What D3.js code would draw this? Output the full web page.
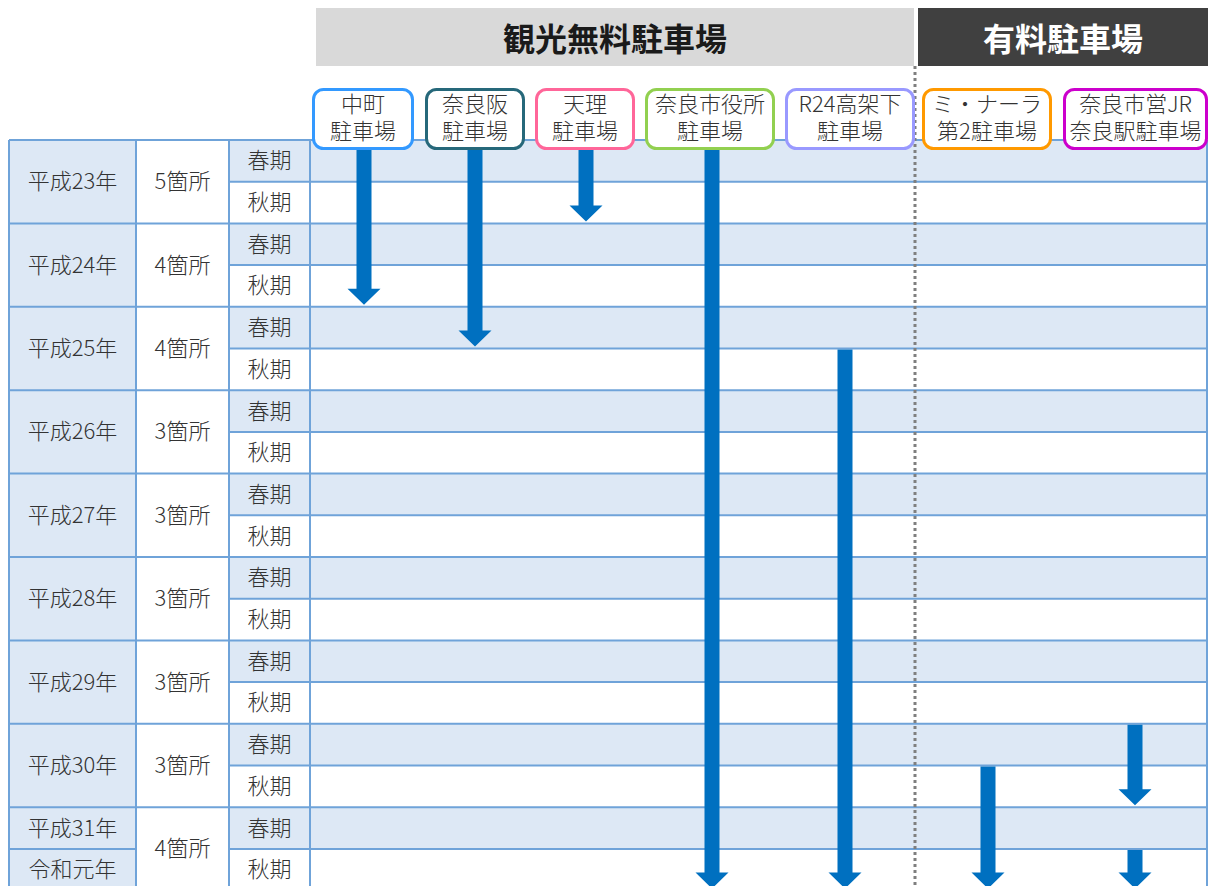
<!DOCTYPE html>
<html><head><meta charset="utf-8">
<script src="https://cdn.jsdelivr.net/npm/d3@7"></script>
<style>
body{margin:0;background:#fff;}
svg{display:block;font-family:"Noto Sans CJK JP","Noto Sans",sans-serif;}
</style>
</head><body>
<svg id="c" width="1208" height="886"></svg>
<script>
// ---------- data ----------
const yearLabels = ["平成23年","平成24年","平成25年","平成26年","平成27年","平成28年","平成29年","平成30年","平成31年","令和元年"];
const yearSpans  = [2,2,2,2,2,2,2,2,1,1];
const countLabels = ["5箇所","4箇所","4箇所","3箇所","3箇所","3箇所","3箇所","3箇所","4箇所"];
const countSpans  = [2,2,2,2,2,2,2,2,2];
const seasonLabels = ["春期","秋期"];
const groupTitles = ["観光無料駐車場","有料駐車場"];
const lotLine1 = ["中町","奈良阪","天理","奈良市役所","R24高架下","ミ・ナーラ","奈良市営JR"];
const lotLine2 = ["駐車場","駐車場","駐車場","駐車場","駐車場","第2駐車場","奈良駅駐車場"];
// operating periods: [first period index, last period index] (0 = 平成23年春期)
const lotPeriods = [
  [[0,3]],
  [[0,4]],
  [[0,1]],
  [[0,17]],
  [[5,17]],
  [[15,17]],
  [[14,15],[17,17]]
];

// ---------- layout / style ----------
const W = 1208, H = 886;
const nPeriods = d3.sum(yearSpans);
const tableTop = 140, rowH = 41.7;
const colX = [9, 136, 229, 310, 1207];
const lotCenters = [364, 475, 586, 712, 845, 988, 1135];
const lotBoxes = [[312,414],[425,525],[535,635],[645,775],[785,915],[922,1052],[1063,1208]];
const lotColors = ["#3399ff","#26687a","#ff6699","#92d050","#9999ff","#ff9900","#cc00cc"];
const groupX = [[316, 914],[918, 1208]];
const groupFill = ["#d9d9d9","#404040"];
const groupText = ["#1a1a1a","#ffffff"];
const shade = "#dde8f5", gridC = "#6fa3d9", textC = "#333333", arrowC = "#0070c0";
const fs = 22, fw = 300, tShift = -2.5;

const svg = d3.select("#c");
const y = d3.scaleLinear().domain([0, nPeriods]).range([tableTop, tableTop + nPeriods*rowH]);
const xLot = d3.scaleOrdinal().domain(d3.range(lotLine1.length)).range(lotCenters);

const periods = d3.range(nPeriods).map(i => ({i, season: seasonLabels[i % 2]}));
const cum = a => { let s = 0; return a.map(v => { const o = {start: s, span: v}; s += v; return o; }); };
const yearRows = cum(yearSpans).map((d,k) => ({...d, label: yearLabels[k]}));
const countRows = cum(countSpans).map((d,k) => ({...d, label: countLabels[k]}));

// backgrounds
const bg = svg.append("g");
bg.selectAll("rect.yr").data(yearRows).join("rect")
  .attr("x", colX[0]).attr("width", colX[1]-colX[0])
  .attr("y", d => y(d.start)).attr("height", d => y(d.start+d.span)-y(d.start))
  .attr("fill", shade);
bg.selectAll("rect.sp").data(periods.filter(p => p.i % 2 === 0)).join("rect")
  .attr("x", colX[2]).attr("width", colX[4]-colX[2])
  .attr("y", d => y(d.i)).attr("height", rowH)
  .attr("fill", shade);

// grid lines
const grid = svg.append("g").attr("stroke", gridC).attr("stroke-width", 2);
const hline = (x1, x2, yy) => grid.append("line").attr("x1", x1).attr("x2", x2).attr("y1", yy).attr("y2", yy);
yearRows.forEach(d => hline(colX[0], colX[1], y(d.start)));
countRows.forEach(d => hline(colX[1], colX[2], y(d.start)));
periods.forEach(d => hline(colX[2], colX[4], y(d.i)));
colX.forEach(x => grid.append("line").attr("x1", x).attr("x2", x).attr("y1", tableTop).attr("y2", H));

// table texts
const tg = svg.append("g").attr("fill", textC).attr("font-size", fs).attr("font-weight", fw)
  .attr("text-anchor", "middle").attr("dominant-baseline", "central");
tg.selectAll("text.yr").data(yearRows).join("text")
  .attr("x", (colX[0]+colX[1])/2).attr("y", d => y(d.start + d.span/2) + tShift).text(d => d.label);
tg.selectAll("text.ct").data(countRows).join("text")
  .attr("x", (colX[1]+colX[2])/2).attr("y", d => y(d.start + d.span/2) + tShift).text(d => d.label);
tg.selectAll("text.se").data(periods).join("text")
  .attr("x", (colX[2]+colX[3])/2).attr("y", d => y(d.i + 0.5) + tShift).text(d => d.season);

// divider
svg.append("line").attr("x1", 915).attr("x2", 915).attr("y1", 66).attr("y2", H)
  .attr("stroke", "#7f7f7f").attr("stroke-width", 3).attr("stroke-dasharray", "3,3");

// arrows
const segs = [];
lotPeriods.forEach((ps, k) => ps.forEach(p => segs.push({k, s: p[0], e: p[1]})));
const sw = 7.5, hw = 16.5, hh = 16;
svg.append("g").selectAll("path").data(segs).join("path")
  .attr("fill", arrowC)
  .attr("d", d => {
    const cx = xLot(d.k), top = y(d.s) + 1, tip = y(d.e + 1) - 2, hb = tip - hh;
    return `M${cx-sw},${top}L${cx+sw},${top}L${cx+sw},${hb}L${cx+hw},${hb}L${cx},${tip}L${cx-hw},${hb}L${cx-sw},${hb}Z`;
  });

// group title bars
const gt = svg.append("g");
groupTitles.forEach((t, g) => {
  gt.append("rect").attr("x", groupX[g][0]).attr("y", 8).attr("width", groupX[g][1]-groupX[g][0]).attr("height", 58)
    .attr("fill", groupFill[g]);
  gt.append("text").attr("x", (groupX[g][0]+groupX[g][1])/2).attr("y", 37)
    .attr("text-anchor", "middle").attr("dominant-baseline", "central")
    .attr("font-size", 32).attr("font-weight", "bold").attr("fill", groupText[g]).text(t);
});

// lot label boxes
const lb = svg.append("g").selectAll("g").data(lotLine1.map((n, k) => ({k}))).join("g");
lb.append("rect")
  .attr("x", d => lotBoxes[d.k][0] + 1.5).attr("y", 89.5)
  .attr("width", d => lotBoxes[d.k][1] - lotBoxes[d.k][0] - 3).attr("height", 59)
  .attr("rx", 10).attr("fill", "#fff").attr("stroke", d => lotColors[d.k]).attr("stroke-width", 3);
const bx = d => (lotBoxes[d.k][0] + lotBoxes[d.k][1]) / 2;
const lt = lb.append("text").attr("text-anchor", "middle").attr("font-size", fs).attr("font-weight", fw).attr("fill", textC);
lt.append("tspan").attr("x", bx).attr("y", 112).text(d => lotLine1[d.k]);
lt.append("tspan").attr("x", bx).attr("y", 139).text(d => lotLine2[d.k]);
</script>
</body></html>
